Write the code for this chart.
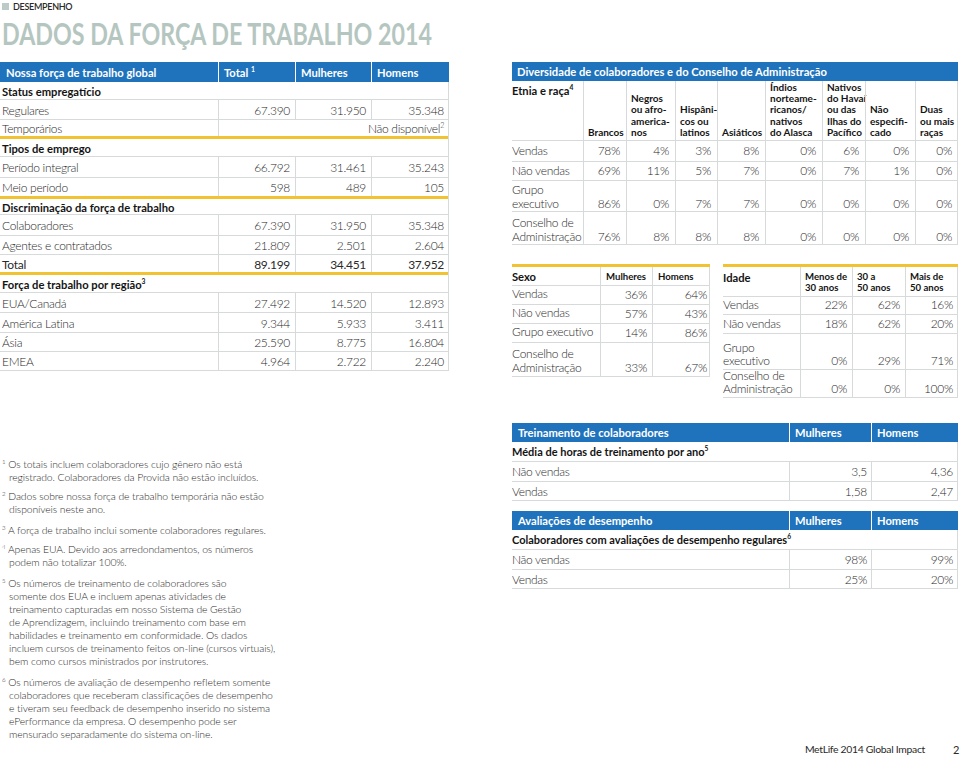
<!DOCTYPE html>
<html>
<head>
<meta charset="utf-8">
<script src="https://cdn.jsdelivr.net/npm/chart.js"></script>
<style>
body{margin:0;width:960px;height:757px;background:#fff;position:relative;overflow:hidden;
  font-family:Lato,"Open Sans",sans-serif;color:#2a2a2a;}
.c{position:absolute;box-sizing:border-box;display:flex;white-space:pre;font-size:12px;font-weight:300;line-height:13px;letter-spacing:-0.3px;}
.b{font-weight:700;color:#141414;letter-spacing:0;}
.w{color:#fff;font-weight:700;letter-spacing:0;}
sup{font-size:0.6em;line-height:0;vertical-align:super;}
.fn{position:absolute;left:2px;width:310px;font-size:10.4px;line-height:13px;font-weight:300;color:#2a2a2a;
  padding-left:7px;text-indent:-7px;white-space:pre-line;letter-spacing:-0.1px;}
</style>
</head>
<body>
<script>
// ---- data ----
const forceHead = ['Nossa força de trabalho global', 'Total <sup>1</sup>', 'Mulheres', 'Homens'];
const statusLabels = ['Regulares', 'Temporários'];
const statusTotal = [67390], statusWomen = [31950], statusMen = [35348];
const typeLabels = ['Período integral', 'Meio período'];
const typeTotal = [66792, 598], typeWomen = [31461, 489], typeMen = [35243, 105];
const breakdownLabels = ['Colaboradores', 'Agentes e contratados', 'Total'];
const breakdownTotal = [67390, 21809, 89199], breakdownWomen = [31950, 2501, 34451], breakdownMen = [35348, 2604, 37952];
const regionLabels = ['EUA/Canadá', 'América Latina', 'Ásia', 'EMEA'];
const regionTotal = [27492, 9344, 25590, 4964], regionWomen = [14520, 5933, 8775, 2722], regionMen = [12893, 3411, 16804, 2240];

const ethnicityCols = ['Brancos', 'Negros\nou afro-\namerica-\nnos', 'Hispâni-\ncos ou\nlatinos', 'Asiáticos',
  'Índios\nnorteame-\nricanos/\nnativos\ndo Alasca', 'Nativos\ndo Havaí\nou das\nIlhas do\nPacífico', 'Não\nespecifi-\ncado', 'Duas\nou mais\nraças'];
const ethnicityRows = ['Vendas', 'Não vendas', 'Grupo\nexecutivo', 'Conselho de\nAdministração'];
const ethSales = [78, 4, 3, 8, 0, 6, 0, 0];
const ethNonSales = [69, 11, 5, 7, 0, 7, 1, 0];
const ethExec = [86, 0, 7, 7, 0, 0, 0, 0];
const ethBoard = [76, 8, 8, 8, 0, 0, 0, 0];

const sexRows = ['Vendas', 'Não vendas', 'Grupo executivo', 'Conselho de\nAdministração'];
const sexWomen = [36, 57, 14, 33], sexMen = [64, 43, 86, 67];

const ageCols = ['Menos de\n30 anos', '30 a\n50 anos', 'Mais de\n50 anos'];
const ageRows = ['Vendas', 'Não vendas', 'Grupo\nexecutivo', 'Conselho de\nAdministração'];
const ageUnder30 = [22, 18, 0, 0], age30to50 = [62, 62, 29, 0], ageOver50 = [16, 20, 71, 100];

const trainRows = ['Não vendas', 'Vendas'];
const trainWomen = [3.5, 1.58], trainMen = [4.36, 2.47];
const reviewRows = ['Não vendas', 'Vendas'];
const reviewWomen = [98, 25], reviewMen = [99, 20];

const notes = [
  ['1', 'Os totais incluem colaboradores cujo gênero não está\nregistrado. Colaboradores da Provida não estão incluídos.'],
  ['2', 'Dados sobre nossa força de trabalho temporária não estão\ndisponíveis neste ano.'],
  ['3', 'A força de trabalho inclui somente colaboradores regulares.'],
  ['4', 'Apenas EUA. Devido aos arredondamentos, os números\npodem não totalizar 100%.'],
  ['5', 'Os números de treinamento de colaboradores são\nsomente dos EUA e incluem apenas atividades de\ntreinamento capturadas em nosso Sistema de Gestão\nde Aprendizagem, incluindo treinamento com base em\nhabilidades e treinamento em conformidade. Os dados\nincluem cursos de treinamento feitos on-line (cursos virtuais),\nbem como cursos ministrados por instrutores.'],
  ['6', 'Os números de avaliação de desempenho refletem somente\ncolaboradores que receberam classificações de desempenho\ne tiveram seu feedback de desempenho inserido no sistema\nePerformance da empresa. O desempenho pode ser\nmensurado separadamente do sistema on-line.']
];

// ---- helpers ----
const BLUE = '#1f73bc', GOLD = '#f1c232', GRID = '#d7dada';
const num = v => String(v).replace(/\B(?=(\d{3})+(?!\d))/g, '.');
const dec = v => String(v).replace('.', ',');
const pct = v => v + '%';

function rect(x, y, w, h, bg) {
  const d = document.createElement('div');
  d.style.cssText = `position:absolute;left:${x}px;top:${y}px;width:${w}px;height:${h}px;background:${bg}`;
  document.body.appendChild(d);
  return d;
}
function cell(x0, x1, y0, y1, html, o) {
  o = o || {};
  const d = document.createElement('div');
  d.className = 'c ' + (o.cls || '');
  d.style.left = x0 + 'px'; d.style.top = y0 + 'px';
  d.style.width = (x1 - x0) + 'px'; d.style.height = (y1 - y0) + 'px';
  d.style.justifyContent = o.align === 'r' ? 'flex-end' : 'flex-start';
  d.style.alignItems = o.v === 'b' ? 'flex-end' : o.v === 't' ? 'flex-start' : 'center';
  d.style.padding = `${o.pt || 0}px ${o.pr == null ? 5 : o.pr}px ${o.pb || 0}px ${o.pl == null ? 0 : o.pl}px`;
  if (o.size) d.style.fontSize = o.size + 'px';
  if (o.lh) d.style.lineHeight = o.lh + 'px';
  if (o.weight) d.style.fontWeight = o.weight;
  const s = document.createElement('span');
  s.innerHTML = html;
  d.appendChild(s);
  document.body.appendChild(d);
  return d;
}
const hline = (x0, x1, y, c, t) => rect(x0, y, x1 - x0, t || 1, c || GRID);
const vline = (x, y0, y1, c) => rect(x, y0, 1, y1 - y0, c || GRID);

// blue header bar with white column separators
function blueHead(xs, y0, y1, labels) {
  rect(xs[0], y0, xs[xs.length - 1] - xs[0], y1 - y0, BLUE);
  for (let i = 1; i < xs.length - 1; i++) rect(xs[i], y0, 1, y1 - y0, '#fff');
  labels.forEach((t, i) => cell(xs[i], xs[i + 1], y0, y1, t, {cls: 'w', pl: 6, size: 11.2}));
}

// ---- header ----
rect(2, 3, 7, 7, '#bccbc7');
cell(13, 200, 0, 13, 'DESEMPENHO', {size: 9, weight: 600, pl: 0});
const title = cell(2, 700, 16, 50, 'DADOS DA FORÇA DE TRABALHO 2014', {size: 30, weight: 700});
title.style.color = '#b5c6c0';
title.style.letterSpacing = '0';
{
  const sp = title.firstChild;
  const k = 430 / sp.getBoundingClientRect().width;
  sp.style.display = 'inline-block';
  sp.style.transformOrigin = '0 50%';
  sp.style.transform = `scaleX(${k})`;
}

// ---- left table ----
const LX = [0, 218, 295, 371, 449];
blueHead(LX, 62, 82, forceHead);

function section(y0, y1, label) {
  cell(LX[0], LX[4], y0, y1, label, {cls: 'b', size: 11.2, pl: 2});
  hline(LX[0], LX[4], y1 - 1);
}
function dataRow(y0, y1, label, vals, o) {
  o = o || {};
  cell(LX[0], LX[1], y0, y1, label, {pl: 2, weight: o.weight});
  vals.forEach((v, i) => cell(LX[i + 1], LX[i + 2], y0, y1, v, {align: 'r', pr: 5, weight: o.weight}));
  for (let i = 1; i < 4; i++) vline(LX[i], y0, y1);
  hline(LX[0], LX[4], y1 - 1);
}
function gold(y) { rect(LX[0], y - 1, LX[4] - LX[0], 3, GOLD); }

section(82, 100, 'Status empregatício');
dataRow(100, 120, statusLabels[0], [num(statusTotal[0]), num(statusWomen[0]), num(statusMen[0])]);
cell(LX[0], LX[1], 120, 137, statusLabels[1], {pl: 2});
cell(LX[1], LX[4], 120, 137, 'Não disponível<sup>2</sup>', {align: 'r', pr: 5});
vline(LX[1], 120, 137);
gold(137);

section(139, 157, 'Tipos de emprego');
const typeY = [157, 178, 197];
typeLabels.forEach((l, i) => dataRow(typeY[i], typeY[i + 1], l, [num(typeTotal[i]), num(typeWomen[i]), num(typeMen[i])]));
gold(197);

section(199, 215, 'Discriminação da força de trabalho');
const brY = [215, 236, 255, 273];
breakdownLabels.forEach((l, i) => dataRow(brY[i], brY[i + 1], l,
  [num(breakdownTotal[i]), num(breakdownWomen[i]), num(breakdownMen[i])], {weight: i === 2 ? 400 : null}));
gold(273);

section(275, 293, 'Força de trabalho por região<sup>3</sup>');
const rgY = [293, 313, 333, 352, 371];
regionLabels.forEach((l, i) => dataRow(rgY[i], rgY[i + 1], l, [num(regionTotal[i]), num(regionWomen[i]), num(regionMen[i])]));
vline(LX[4] - 1, 82, 371);

// ---- diversity table ----
const DX = [512, 583, 626, 675, 717, 765, 822, 865, 915, 958];
rect(512, 62, 446, 19, BLUE);
cell(512, 958, 62, 81, 'Diversidade de colaboradores e do Conselho de Administração', {cls: 'w', pl: 5, size: 11.2});
cell(DX[0], DX[1], 81, 141, 'Etnia e raça<sup>4</sup>', {cls: 'b', size: 11.2, v: 't', pt: 3, pl: 0});
ethnicityCols.forEach((t, i) => cell(DX[i + 1], DX[i + 2], 81, 141, t, {cls: 'b', size: 10, lh: 11.2, v: 'b', pb: 3, pl: 5}));
const ethY = [141, 162, 181, 212, 245];
[ethSales, ethNonSales, ethExec, ethBoard].forEach((row, r) => {
  const vb = r > 1 ? 'b' : 'c';
  cell(DX[0], DX[1], ethY[r], ethY[r + 1], ethnicityRows[r], {v: vb, pb: 2, lh: 13.5});
  row.forEach((v, i) => cell(DX[i + 1], DX[i + 2], ethY[r], ethY[r + 1], pct(v), {align: 'r', pr: 6, v: vb, pb: 2}));
  hline(DX[0], DX[9], ethY[r] - 1);
});
hline(DX[0], DX[9], 244);
for (let i = 1; i < DX.length; i++) vline(DX[i] - (i === 9 ? 1 : 0), 81, 245);

// ---- sex table ----
const SX = [512, 600, 652, 710];
rect(SX[0], 264, SX[3] - SX[0], 3, GOLD);
cell(SX[0], SX[1], 267, 286, 'Sexo', {cls: 'b', size: 11.2});
['Mulheres', 'Homens'].forEach((t, i) => cell(SX[i + 1], SX[i + 2], 267, 286, t, {cls: 'b', size: 9.6, pl: 6}));
const sexY = [286, 305, 324, 343, 377];
sexRows.forEach((l, r) => {
  hline(SX[0], SX[3], sexY[r] - 1);
  const vb = r === 3 ? 'b' : 'c';
  cell(SX[0], SX[1], sexY[r], sexY[r + 1], l, {v: vb, pb: 3, lh: 13.5});
  cell(SX[1], SX[2], sexY[r], sexY[r + 1], pct(sexWomen[r]), {align: 'r', pr: 5, v: vb, pb: 3});
  cell(SX[2], SX[3], sexY[r], sexY[r + 1], pct(sexMen[r]), {align: 'r', pr: 3, v: vb, pb: 3});
});
hline(SX[0], SX[3], 376);
vline(SX[1], 267, 377); vline(SX[2], 267, 377); vline(SX[3] - 1, 267, 377);

// ---- age table ----
const AX = [723, 800, 852, 905, 958];
rect(AX[0], 264, AX[4] - AX[0], 3, GOLD);
cell(AX[0], AX[1], 267, 297, 'Idade', {cls: 'b', size: 11.2, v: 't', pt: 4});
ageCols.forEach((t, i) => cell(AX[i + 1], AX[i + 2], 267, 297, t, {cls: 'b', size: 9.6, lh: 11, v: 't', pt: 4, pl: 5}));
const ageY = [297, 315, 334, 370, 398];
ageRows.forEach((l, r) => {
  hline(AX[0], AX[4], ageY[r] - 1);
  const vb = r > 1 ? 'b' : 'c';
  cell(AX[0], AX[1], ageY[r], ageY[r + 1], l, {v: vb, pb: 3, lh: 13});
  [ageUnder30, age30to50, ageOver50].forEach((s, i) =>
    cell(AX[i + 1], AX[i + 2], ageY[r], ageY[r + 1], pct(s[r]), {align: 'r', pr: 5, v: vb, pb: 3}));
});
hline(AX[0], AX[4], 397);
for (let i = 1; i < AX.length; i++) vline(AX[i] - (i === 4 ? 1 : 0), 267, 398);

// ---- training & reviews ----
const TX = [512, 789, 871, 958];
function smallTable(y0, head, sub, rows, a, b, fmt) {
  blueHead(TX, y0, y0 + 19, [head, 'Mulheres', 'Homens']);
  cell(TX[0], TX[3], y0 + 19, y0 + 38, sub, {cls: 'b', size: 11});
  hline(TX[0], TX[3], y0 + 38);
  rows.forEach((l, r) => {
    const ya = y0 + 39 + r * 19.5, yb = ya + 19.5;
    cell(TX[0], TX[1], ya, yb, l);
    cell(TX[1], TX[2], ya, yb, fmt(a[r]), {align: 'r', pr: 4});
    cell(TX[2], TX[3], ya, yb, fmt(b[r]), {align: 'r', pr: 5});
    hline(TX[0], TX[3], Math.round(yb) - 1);
    vline(TX[1], ya, yb); vline(TX[2], ya, yb);
  });
  vline(TX[3] - 1, y0 + 19, y0 + 78);
}
smallTable(423, 'Treinamento de colaboradores', 'Média de horas de treinamento por ano<sup>5</sup>', trainRows, trainWomen, trainMen, dec);
smallTable(511, 'Avaliações de desempenho', 'Colaboradores com avaliações de desempenho regulares<sup>6</sup>', reviewRows, reviewWomen, reviewMen, pct);

// ---- footnotes ----
const noteTop = [458, 490, 524, 543, 577, 676];
notes.forEach((n, i) => {
  const d = document.createElement('div');
  d.className = 'fn';
  d.style.top = noteTop[i] + 'px';
  d.innerHTML = '<sup>' + n[0] + '</sup> ' + n[1];
  document.body.appendChild(d);
});

// ---- footer ----
cell(780, 929, 741, 757, 'MetLife 2014 Global Impact', {size: 10.4, weight: 400, align: 'r', pr: 4});
cell(945, 960, 741, 757, '2', {size: 11, weight: 400, pl: 8, pr: 0});
</script>
</body>
</html>
